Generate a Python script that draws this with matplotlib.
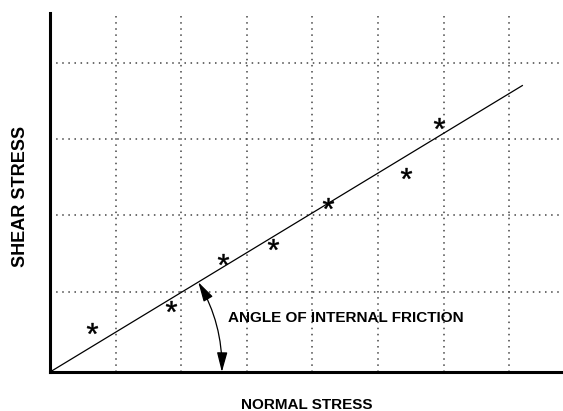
import matplotlib.pyplot as plt
from matplotlib.patches import FancyArrowPatch

plt.rcParams['font.family'] = ['Liberation Sans', 'DejaVu Sans']
plt.rcParams['mathtext.fontset'] = 'custom'
plt.rcParams['mathtext.rm'] = 'Liberation Sans'

# test points (normal stress, shear stress), arbitrary units
normal = [0.64, 1.84, 2.64, 3.40, 4.24, 5.43, 5.93]
shear = [0.58, 0.87, 1.48, 1.68, 2.21, 2.60, 3.26]

# failure envelope through the origin
env_x = [0.0, 7.20]
env_y = [0.0, 3.75]

x_grid = [1, 2, 3, 4, 5, 6, 7]
y_grid = [1.05, 2.05, 3.05, 4.05]

# ends of the angle arc: on the envelope and on the normal stress axis
arc_top = (2.26, 2.26 * 3.75 / 7.20)
arc_bottom = (2.62, 0.0)

fig = plt.figure(figsize=(5.63, 4.11), dpi=100)
ax = fig.add_axes([50 / 563, 39 / 411, 513 / 563, 359 / 411])
ax.set_xlim(0, 7.82)
ax.set_ylim(0, 4.70)

# dotted grid, no tick marks or labels
ax.set_xticks(x_grid)
ax.set_yticks(y_grid)
ax.tick_params(length=0, labelbottom=False, labelleft=False)
ax.grid(True, linestyle=(0, (1, 3)), color='#444444', linewidth=1.1)
ax.set_axisbelow(True)

for side in ['top', 'right']:
    ax.spines[side].set_visible(False)
for side in ['left', 'bottom']:
    ax.spines[side].set_linewidth(2.2)
    ax.spines[side].set_color('black')

ax.plot(env_x, env_y, color='black', linewidth=0.9)
ax.plot(normal, shear, linestyle='none', marker=r'$\mathrm{*}$',
        markersize=8, markeredgewidth=0.3, color='black')

# curved double arrow for the friction angle
arrow = FancyArrowPatch(arc_top, arc_bottom,
                        connectionstyle='arc3,rad=-0.14',
                        arrowstyle='<|-|>,head_length=12,head_width=3.2',
                        mutation_scale=1, shrinkA=0, shrinkB=0,
                        color='black', linewidth=0.9)
ax.add_patch(arrow)

ax.text(2.71, 0.71, 'ANGLE OF INTERNAL FRICTION', fontsize=11,
        fontweight='bold', ha='left', va='center')

fig.text(307 / 563, 1 - 404.5 / 411, 'NORMAL STRESS', fontsize=11,
         fontweight='bold', ha='center', va='center')
fig.text(21 / 563, 1 - 196 / 411, 'SHEAR STRESS', fontsize=13,
         fontweight='bold', ha='center', va='center', rotation=90)

fig.savefig('out.png', dpi=100)
